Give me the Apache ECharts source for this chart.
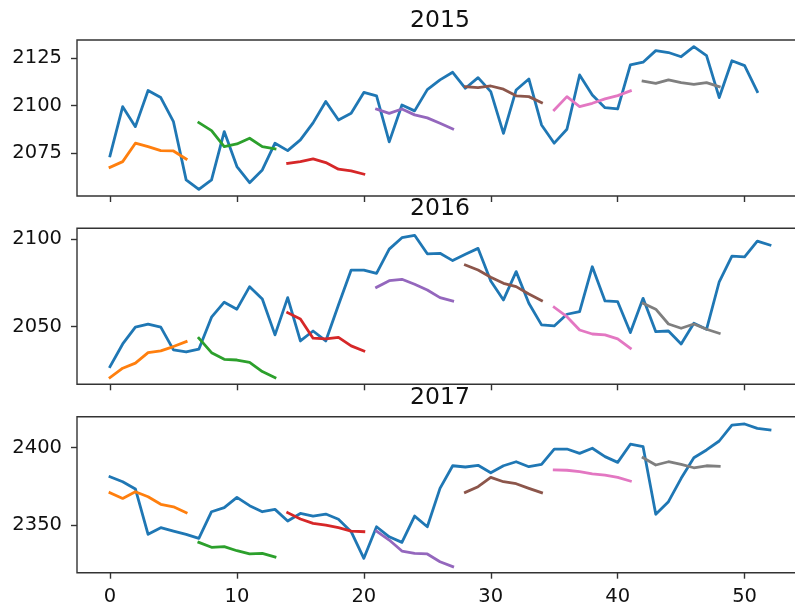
<!DOCTYPE html>
<html>
<head>
<meta charset="utf-8">
<script src="https://cdn.jsdelivr.net/npm/echarts@6/dist/echarts.min.js"></script>
<style>
html,body{margin:0;padding:0;background:#fff;}
#chart{width:795px;height:607px;}
</style>
</head>
<body>
<div id="chart"></div>
<script>
// ---- data ----
const years = ['2015', '2016', '2017'];
const xTicks = [0, 10, 20, 30, 40, 50];
const yTicks2015 = [2075, 2100, 2125];
const yTicks2016 = [2050, 2100];
const yTicks2017 = [2350, 2400];
const segStarts = [0, 7, 14, 21, 28, 35, 42];

const actual2015 = [2073.6, 2099.5, 2089, 2108, 2104.3, 2091.6, 2061, 2056, 2061, 2086.4,
  2068, 2059.5, 2066.2, 2080.3, 2076.4, 2082, 2091, 2102.2, 2092.5, 2096,
  2107, 2105.2, 2081, 2100.4, 2097.3, 2108.5, 2113.6, 2117.6, 2109.2, 2114.8,
  2107.4, 2085.5, 2108.3, 2114.1, 2089.9, 2080.3, 2087.6, 2116.2, 2105.7, 2099,
  2098.3, 2121.5, 2122.9, 2129, 2128, 2125.8, 2131.1, 2126.4, 2104.3, 2123.7,
  2121.1, 2107.4];
const forecast2015 = [
  [2067.6, 2070.6, 2080.3, 2078.5, 2076.4, 2076.2, 2072],
  [2091.1, 2086.9, 2078.5, 2079.9, 2082.9, 2078.5, 2077.3],
  [2069.7, 2070.6, 2072, 2070.1, 2066.6, 2065.7, 2064],
  [2098.2, 2096, 2098.3, 2095.2, 2093.6, 2090.8, 2087.8],
  [2110, 2109.5, 2110.4, 2108.7, 2105.2, 2104.8, 2101.6],
  [2097.8, 2104.8, 2099.5, 2101.3, 2103.6, 2105.3, 2107.8],
  [2113, 2111.8, 2113.6, 2112.2, 2111.3, 2112.2, 2110]
];

const actual2016 = [2027.1, 2040.1, 2049.7, 2051.5, 2049.7, 2036.7, 2035.5, 2037.1, 2055.4, 2064,
  2060, 2072.9, 2065.8, 2045.3, 2066.6, 2041.8, 2047.5, 2041.8, 2062.4, 2082.4,
  2082.4, 2080.5, 2094.4, 2100.9, 2102.3, 2091.7, 2092, 2087.8, 2091.4, 2094.8,
  2076.1, 2065.3, 2081.5, 2063.4, 2051, 2050.4, 2057.1, 2058.6, 2084.3, 2064.7,
  2064.3, 2046.6, 2066.2, 2047.1, 2047.5, 2040.1, 2052, 2048.5, 2075.7, 2090.4,
  2090, 2099, 2096.7];
const forecast2016 = [
  [2020.8, 2026.2, 2029.1, 2035.1, 2036.1, 2038.6, 2041.4],
  [2043.4, 2035.1, 2031.3, 2030.9, 2029.6, 2024.3, 2020.8],
  [2058, 2054.4, 2043.4, 2043, 2043.9, 2039, 2036.1],
  [2072.5, 2076.3, 2077.1, 2074.3, 2071, 2066.6, 2064.7],
  [2085.3, 2082.4, 2078.3, 2074.8, 2072.9, 2068.7, 2064.9],
  [2061.1, 2055.7, 2048.1, 2045.8, 2045.3, 2043, 2037.6],
  [2063.4, 2060, 2051.5, 2049.1, 2051.5, 2048.5, 2046.2]
];

const actual2017 = [2381.2, 2378, 2373.3, 2344, 2348.3, 2346.1, 2344, 2341.4, 2358.6, 2361.2,
  2367.9, 2362.5, 2358.6, 2360.1, 2352.6, 2357.5, 2355.8, 2357.1, 2353.7, 2345.7,
  2328.5, 2348.9, 2342.4, 2338.8, 2355.8, 2348.9, 2373.7, 2388.3, 2387.5, 2388.6,
  2383.8, 2388.3, 2390.9, 2387.7, 2389.2, 2399.1, 2399.1, 2396.3, 2399.6, 2394.2,
  2390.5, 2402.2, 2400.6, 2356.9, 2365.1, 2380.2, 2393.5, 2398.5, 2404.3, 2414.6,
  2415.3, 2412.5, 2411.4];
const forecast2017 = [
  [2370.9, 2367.2, 2371.5, 2368.3, 2363.4, 2361.8, 2358],
  [2338.8, 2335.6, 2336, 2333.4, 2331.3, 2331.7, 2329.3],
  [2358, 2353.9, 2351.1, 2350, 2348.3, 2346.1, 2345.7],
  [2346.1, 2340.3, 2333.2, 2331.7, 2331.3, 2326.3, 2323.1],
  [2371.1, 2374.8, 2380.8, 2378, 2376.7, 2373.7, 2370.9],
  [2385.6, 2385.4, 2384.5, 2383, 2382.3, 2380.8, 2378.4],
  [2393.5, 2388.8, 2390.9, 2389.2, 2387, 2388.3, 2387.9]
];

const yRanges = [[2052.5, 2134.6], [2017.0, 2106.3], [2319.2, 2420.0]];
const xRange = [-2.6, 54.6];

// ---- chart ----
const colors = ['#1f77b4', '#ff7f0e', '#2ca02c', '#d62728', '#9467bd', '#8c564b', '#e377c2', '#7f7f7f'];
const actuals = [actual2015, actual2016, actual2017];
const forecasts = [forecast2015, forecast2016, forecast2017];
const yTicks = [yTicks2015, yTicks2016, yTicks2017];
const gridTops = [40, 228.3, 416.7];
const gridH = 156;
const FONT = 'DejaVu Sans';
const AX = '#333';

const grids = [], xAxes = [], yAxes = [], series = [], titles = [];
for (let g = 0; g < 3; g++) {
  grids.push({left: 77, width: 726, top: gridTops[g], height: gridH, show: true,
    outerBoundsMode: 'none',
    borderColor: AX, borderWidth: 1.4, backgroundColor: 'transparent', containLabel: false});
  xAxes.push({type: 'value', gridIndex: g, min: xRange[0], max: xRange[1],
    splitLine: {show: false}, axisLine: {show: false, onZero: false},
    axisTick: {show: true, length: 6, inside: false, customValues: xTicks, lineStyle: {color: AX, width: 1.4}},
    axisLabel: {show: g === 2, customValues: xTicks, margin: 14, color: '#111', fontFamily: FONT, fontSize: 19.5,
      formatter: v => String(v)}});
  yAxes.push({type: 'value', gridIndex: g, min: yRanges[g][0], max: yRanges[g][1],
    splitLine: {show: false}, axisLine: {show: false, onZero: false},
    axisTick: {show: true, length: 6, customValues: yTicks[g], lineStyle: {color: AX, width: 1.4}},
    axisLabel: {show: true, customValues: yTicks[g], margin: 15, color: '#111', fontFamily: FONT, fontSize: 19.5,
      formatter: v => String(v)}});
  titles.push({text: years[g], left: 440, top: gridTops[g] - 31, textAlign: 'center', padding: 0,
    textStyle: {fontFamily: FONT, fontSize: 23.5, fontWeight: 'normal', color: '#111'}});
  const lineBase = {type: 'line', xAxisIndex: g, yAxisIndex: g, showSymbol: false, symbol: 'none',
    silent: true, animation: false};
  series.push(Object.assign({}, lineBase, {
    data: actuals[g].map((v, i) => [i, v]),
    lineStyle: {color: colors[0], width: 2.8, join: 'round', cap: 'square'}, z: 2}));
  forecasts[g].forEach((seg, k) => {
    series.push(Object.assign({}, lineBase, {
      data: seg.map((v, j) => [segStarts[k] + j, v]),
      lineStyle: {color: colors[k + 1], width: 2.8, join: 'round', cap: 'square'}, z: 3}));
  });
}

const chart = echarts.init(document.getElementById('chart'), null, {renderer: 'canvas'});
chart.setOption({
  animation: false,
  backgroundColor: '#fff',
  title: titles,
  grid: grids,
  xAxis: xAxes,
  yAxis: yAxes,
  series: series
});
</script>
</body>
</html>
